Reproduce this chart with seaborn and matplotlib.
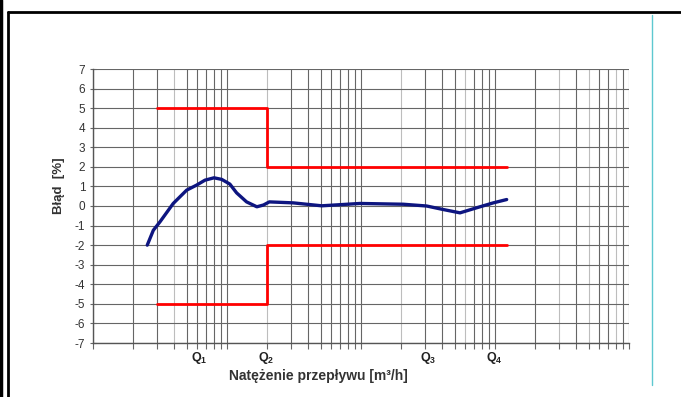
import numpy as np
import pandas as pd
import seaborn as sns
import matplotlib.pyplot as plt
from matplotlib.lines import Line2D
from matplotlib.ticker import FixedLocator, NullFormatter

# error curve of the meter
flow = [2.54, 2.82, 3.16, 3.97, 5.0, 5.94, 6.85, 8.0, 9.13, 10.5, 11.8, 14.0,
        16.7, 18.7, 20.7, 31.2, 50.9, 98.3, 207, 309, 411, 548, 730, 971, 1222]
error = [-2.0, -1.24, -0.81, 0.13, 0.81, 1.07, 1.32, 1.44, 1.36, 1.12, 0.67, 0.21,
         -0.04, 0.05, 0.21, 0.16, 0.01, 0.13, 0.09, 0.0, -0.18, -0.35, -0.09, 0.16, 0.33]

# permissible error limits
limit_flow = [3, 20, 20, 1222]
limit_upper = [5, 5, 2, 2]
limit_lower = [-5, -5, -2, -2]

q_pos = [6.2, 19.5, 318, 990]
q_labels = ["$\\mathbf{Q_1}$", "$\\mathbf{Q_2}$", "$\\mathbf{Q_3}$", "$\\mathbf{Q_4}$"]
y_ticks = list(range(-7, 8))

sns.set_style("white")
plt.rcParams['font.family'] = ['Liberation Sans', 'DejaVu Sans']
plt.rcParams['mathtext.fontset'] = 'custom'
plt.rcParams['mathtext.bf'] = 'Liberation Sans:bold'
plt.rcParams['mathtext.rm'] = 'Liberation Sans'

fig = plt.figure(figsize=(6.81, 3.97), dpi=100)
ax = fig.add_axes([93 / 681, 1 - 343 / 397, 536 / 681, 274 / 397])

curve = pd.DataFrame({"flow": flow, "error": error})
limits = pd.DataFrame({"flow": limit_flow, "upper": limit_upper, "lower": limit_lower})

sns.lineplot(data=limits, x="flow", y="upper", estimator=None, sort=False,
             color="#ff0000", linewidth=2, ax=ax, zorder=3)
sns.lineplot(data=limits, x="flow", y="lower", estimator=None, sort=False,
             color="#ff0000", linewidth=2, ax=ax, zorder=3)
sns.lineplot(data=curve, x="flow", y="error", estimator=None, sort=False,
             color="#0d1580", linewidth=2.4, ax=ax, zorder=4)

ax.set_xscale("log")
ax.set_xlim(1, 10000)
ax.set_ylim(-7, 7)

# log grid, some lines are printed lighter in the original
grid_x = [m * 10 ** d for d in range(4) for m in range(1, 10)] + [10000]
light_x = [4, 20, 200, 600, 3000, 5000, 8000]
for gx in grid_x:
    ax.axvline(gx, color="#bdbdbd" if gx in light_x else "#666666", linewidth=0.8, zorder=1)
for gy in y_ticks:
    ax.axhline(gy, color="#666666", linewidth=0.8, zorder=1)

ax.xaxis.set_major_locator(FixedLocator(q_pos))
ax.set_xticklabels(q_labels)
ax.xaxis.set_minor_locator(FixedLocator(grid_x))
ax.xaxis.set_minor_formatter(NullFormatter())
ax.tick_params(axis="x", which="major", length=0, pad=5, labelsize=9, labelcolor="#222222")
ax.tick_params(axis="x", which="minor", bottom=True, length=4, direction="out",
               color="#666666", width=0.8)

ax.set_yticks(y_ticks)
ax.set_yticklabels([str(v) for v in y_ticks])
ax.tick_params(axis="y", left=True, length=5, direction="inout", color="#666666",
               width=0.8, labelsize=8.5, labelcolor="#333333", pad=3)

for side in ["top", "right"]:
    ax.spines[side].set_visible(False)
for side in ["left", "bottom"]:
    ax.spines[side].set_color("#555555")
    ax.spines[side].set_linewidth(1)

ax.set_xlabel("Natężenie przepływu [m³/h]", fontsize=10, fontweight="bold",
              color="#333333")
ax.xaxis.set_label_coords(0.42, -0.095)
ax.set_ylabel("Błąd  [%]", fontsize=9.5, fontweight="bold", color="#333333")
ax.yaxis.set_label_coords(-0.052, 0.573)

# page frame around the chart
fig.add_artist(Line2D([0.0015, 0.0015], [0, 1], color="black", linewidth=2.5,
                      transform=fig.transFigure))
fig.add_artist(Line2D([8 / 681, 8 / 681], [0, 1 - 12 / 397], color="black", linewidth=2,
                      transform=fig.transFigure))
fig.add_artist(Line2D([8 / 681, 1], [1 - 12 / 397, 1 - 12 / 397], color="black",
                      linewidth=2, transform=fig.transFigure))
fig.add_artist(Line2D([652 / 681, 652 / 681], [1 - 385 / 397, 1 - 15 / 397],
                      color="#5ec8d0", linewidth=1, transform=fig.transFigure))

fig.savefig("out.png", dpi=100)
